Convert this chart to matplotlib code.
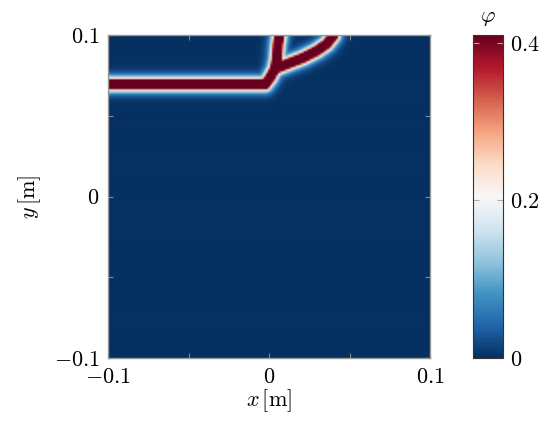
import matplotlib
matplotlib.use("Agg")
import matplotlib.pyplot as plt
import numpy as np
from matplotlib.ticker import FixedLocator, FixedFormatter

plt.rcParams['mathtext.fontset'] = 'cm'
plt.rcParams['font.family'] = 'serif'
plt.rcParams['font.serif'] = ['cmr10', 'DejaVu Serif']
plt.rcParams['axes.unicode_minus'] = False

# crack path (centre lines), in metres
main_x = [-0.105, -0.0025, 0.0006, 0.0037]
main_y = [0.0699, 0.0699, 0.0739, 0.0795]
branch1_x = [0.0037, 0.0050, 0.0056, 0.0068]
branch1_y = [0.0795, 0.0863, 0.0950, 0.1020]
branch2_x = [0.0037, 0.0130, 0.0211, 0.0298, 0.0360, 0.0400]
branch2_y = [0.0795, 0.0832, 0.0863, 0.0907, 0.0950, 0.1000]

phi_max = 1.0
core = 0.0010         # half width of the saturated core
ell = 0.0019          # regularisation length
vmin, vmax = 0.0, 0.41

ticks = [-0.1, -0.05, 0.0, 0.05, 0.1]
ticklabels = ['$-0.1$', '', '$0$', '', '$0.1$']
cbar_ticks = [0.0, 0.2, 0.4]
cbar_labels = ['$0$', '$0.2$', '$0.4$']


def seg_dist(px, py, xs, ys):
    d = np.full(px.shape, np.inf)
    for i in range(len(xs) - 1):
        ax_, ay_ = xs[i], ys[i]
        bx, by = xs[i + 1], ys[i + 1]
        vx, vy = bx - ax_, by - ay_
        t = ((px - ax_) * vx + (py - ay_) * vy) / (vx * vx + vy * vy)
        t = np.clip(t, 0, 1)
        dd = np.hypot(px - (ax_ + t * vx), py - (ay_ + t * vy))
        d = np.minimum(d, dd)
    return d


n = 161
gx = np.linspace(-0.1, 0.1, n)
X, Y = np.meshgrid(gx, gx)
dist = np.minimum.reduce([
    seg_dist(X, Y, main_x, main_y),
    seg_dist(X, Y, branch1_x, branch1_y),
    seg_dist(X, Y, branch2_x, branch2_y),
])
phi = phi_max * np.exp(-np.maximum(dist - core, 0) / ell)

fig = plt.figure(figsize=(5.53, 4.22), dpi=100)
ax = fig.add_axes([108 / 553, 64 / 422, 322 / 553, 323 / 422])
im = ax.imshow(phi, origin='lower', extent=[-0.1, 0.1, -0.1, 0.1],
               cmap='RdBu_r', vmin=vmin, vmax=vmax, interpolation='bilinear',
               aspect='auto')
ax.set_xlim(-0.1, 0.1)
ax.set_ylim(-0.1, 0.1)
for axis in (ax.xaxis, ax.yaxis):
    axis.set_major_locator(FixedLocator(ticks))
    axis.set_major_formatter(FixedFormatter(ticklabels))
ax.tick_params(direction='in', length=3.5, width=0.8, color='#888888',
               top=True, right=True, labelsize=16)
ax.tick_params(axis='x', pad=7)
ax.tick_params(axis='y', pad=6)
for s in ax.spines.values():
    s.set_color('#999999')
    s.set_linewidth(1.0)
ax.set_xlabel(r'$x\,[\mathrm{m}]$', fontsize=16, labelpad=0)
ax.set_ylabel(r'$y\,[\mathrm{m}]$', fontsize=16, labelpad=8)

cax = fig.add_axes([473 / 553, 64 / 422, 30 / 553, 323 / 422])
cb = fig.colorbar(im, cax=cax)
cb.set_ticks(cbar_ticks)
cb.set_ticklabels(cbar_labels)
cax.tick_params(direction='in', length=4.5, width=0.8, color='#aaaaaa',
                left=True, right=True, labelsize=16, pad=5)
cb.outline.set_edgecolor('#333333')
cb.outline.set_linewidth(0.8)
cax.set_title(r'$\varphi$', fontsize=16, pad=9)

fig.savefig('out.png', dpi=100)
